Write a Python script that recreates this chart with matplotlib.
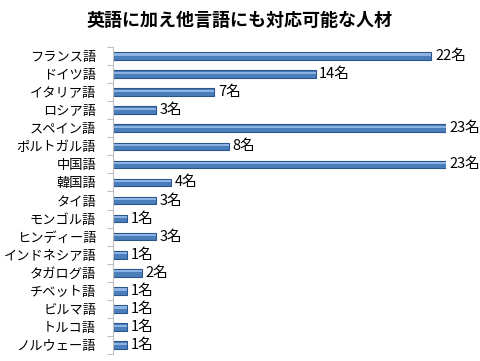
import matplotlib.pyplot as plt
import numpy as np

plt.rcParams['font.family'] = ['Noto Sans CJK JP', 'DejaVu Sans']

gengo = ["フランス語", "ドイツ語", "イタリア語", "ロシア語", "スペイン語", "ポルトガル語",
         "中国語", "韓国語", "タイ語", "モンゴル語", "ヒンディー語", "インドネシア語",
         "タガログ語", "チベット語", "ビルマ語", "トルコ語", "ノルウェー語"]
ninzu = [22, 14, 7, 3, 23, 8, 23, 4, 3, 1, 3, 1, 2, 1, 1, 1, 1]

fig = plt.figure(figsize=(4.8, 3.61), dpi=100)
ax = fig.add_axes([0.235, 0.019, 0.694, 0.851])

y = np.arange(len(gengo))
ax.barh(y, ninzu, height=0.42, color='#4A7EBB', edgecolor='#2B568C', linewidth=0.8)
# 上側のハイライト（グラデーション風）
ax.barh(y - 0.08, ninzu, height=0.12, color='#8DB3E2', linewidth=0)

for yi, v in zip(y, ninzu):
    ax.text(v + 0.25, yi, f"{v}名", va='center', ha='left', fontsize=10.5)

ax.set_ylim(len(gengo) - 0.5, -0.5)
ax.set_xlim(0, 23)
ax.set_yticks(y)
ax.set_yticklabels(gengo, fontsize=9.5)
ax.set_yticks(np.arange(len(gengo) + 1) - 0.5, minor=True)
ax.tick_params(axis='y', which='major', length=0, pad=12)
ax.tick_params(axis='y', which='minor', length=4, color='#BFBFBF', width=0.8)
ax.set_xticks([])
for s in ['top', 'right', 'bottom']:
    ax.spines[s].set_visible(False)
ax.spines['left'].set_color('#BFBFBF')

fig.text(0.5, 0.942, "英語に加え他言語にも対応可能な人材", ha='center', va='center',
         fontsize=13, fontweight='bold')

fig.savefig('out.png', dpi=100)
